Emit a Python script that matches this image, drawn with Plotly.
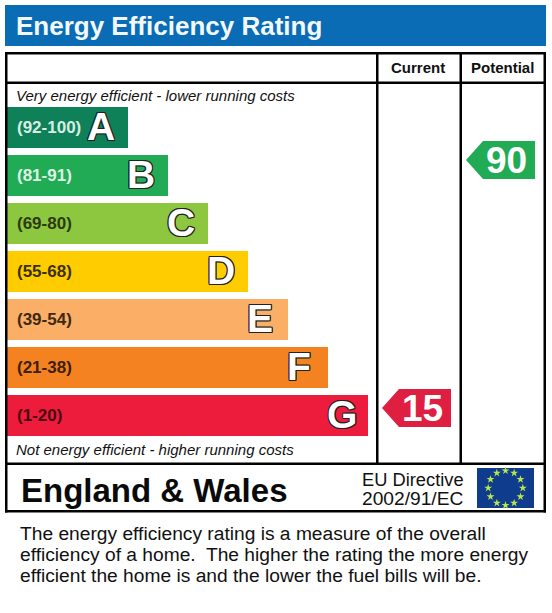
import plotly.graph_objects as go

# Bands, top to bottom
band_letters = ['A', 'B', 'C', 'D', 'E', 'F', 'G']
band_ranges = ['(92-100)', '(81-91)', '(69-80)', '(55-68)', '(39-54)', '(21-38)', '(1-20)']
band_lengths = [121, 161, 201, 241, 281, 321, 361]
band_colors = ['#0E8158', '#22AB55', '#8DC63F', '#FFCC00', '#FBAE65', '#F58220', '#EE1C3C']
range_colors = ['#D8EDE4', '#DDF2E4', '#2B3A12', '#3A3000', '#3D2A14', '#3D2008', '#4A0812']

current_rating = 15
potential_rating = 90
current_color = '#DF1F42'
potential_color = '#22AB55'

body_lines = [
    'The energy efficiency rating is a measure of the overall',
    'efficiency of a home.  The higher the rating the more energy',
    'efficient the home is and the lower the fuel bills will be.',
]
star_angles = [0, 30, 60, 90, 120, 150, 180, 210, 240, 270, 300, 330]
star_radius = [1] * 12

FONT = 'Liberation Sans'
W, H = 552, 613
OUTLINE = ','.join(f'{dx}px {dy}px 0 #222' for dx in (-1, 0, 1) for dy in (-1, 0, 1) if dx or dy)

fig = go.Figure()

# Rating bands
fig.add_trace(go.Bar(
    y=band_letters,
    x=band_lengths,
    base=7,
    orientation='h',
    marker=dict(color=band_colors, line=dict(width=0)),
    hoverinfo='skip',
    xaxis='x',
    yaxis='y',
))
# Range labels inside the bars
fig.add_trace(go.Scatter(
    y=band_letters,
    x=[17] * 7,
    mode='text',
    text=band_ranges,
    textposition='middle right',
    textfont=dict(family=FONT, size=17, weight='bold', color=range_colors),
    hoverinfo='skip',
    xaxis='x',
    yaxis='y3',
))
# Outlined letters at the bar ends
fig.add_trace(go.Scatter(
    y=band_letters,
    x=[7 + v - 41 for v in band_lengths],
    mode='text',
    text=band_letters,
    textposition='middle right',
    textfont=dict(family=FONT, size=39, weight='bold', color='white', shadow=OUTLINE),
    hoverinfo='skip',
    xaxis='x',
    yaxis='y4',
))
# EU stars
fig.add_trace(go.Scatterpolar(
    theta=star_angles,
    r=star_radius,
    mode='markers',
    marker=dict(symbol='star', size=6, color='#B9E64B'),
    hoverinfo='skip',
    subplot='polar',
))


def px_text(x, y, text, size, bold=False, italic=False, color='#111111', xanchor='left'):
    fig.add_annotation(
        x=x, y=y, xref='x', yref='y2', text=text, showarrow=False,
        xanchor=xanchor, yanchor='middle', align='left',
        borderpad=0, borderwidth=0,
        font=dict(family=FONT, size=size, color=color,
                  weight='bold' if bold else 'normal',
                  style='italic' if italic else 'normal'),
    )


def rect(x0, y0, x1, y1, color):
    fig.add_shape(type='rect', x0=x0, y0=y0, x1=x1, y1=y1, xref='x', yref='y2',
                  fillcolor=color, line=dict(width=0), layer='below')


def pointer(x0, x1, y0, y1, color, label):
    # arrow-shaped tag pointing left
    head = x0 + 17
    mid = (y0 + y1) / 2
    fig.add_shape(type='path', xref='x', yref='y2', layer='below',
                  path=f'M {x0} {mid} L {head} {y0} L {x1} {y0} L {x1} {y1} L {head} {y1} Z',
                  fillcolor=color, line=dict(width=0))
    px_text((head + x1) / 2 - 3, mid, label, 37, bold=True, color='white', xanchor='center')


# Header
rect(5, 5, 546, 46, '#0A6CB4')
px_text(16, 26, 'Energy Efficiency Rating', 26, bold=True, color='#F2F8FC')

# Frame and grid lines
rect(5, 52, 546, 54.5, '#000000')
rect(5, 510, 546, 512.5, '#000000')
rect(5, 52, 7.5, 512.5, '#000000')
rect(543.5, 52, 546, 512.5, '#000000')
rect(5, 81.5, 546, 84, '#000000')
rect(5, 462.5, 546, 465, '#000000')
rect(376, 52, 378.5, 464, '#000000')
rect(459.5, 52, 462, 464, '#000000')

px_text(418, 67.5, 'Current', 15, bold=True, xanchor='center')
px_text(502.5, 67.5, 'Potential', 15, bold=True, xanchor='center')
px_text(16, 95, 'Very energy efficient - lower running costs', 15, italic=True)
px_text(16, 449, 'Not energy efficient - higher running costs', 15, italic=True)

pointer(466, 535, 141, 179, potential_color, str(potential_rating))
pointer(382, 451, 389, 427, current_color, str(current_rating))

# Footer
px_text(21, 490, 'England &amp; Wales', 33, bold=True, color='#0A0A0A')
px_text(362, 479, 'EU Directive', 18.3)
px_text(362, 498, '2002/91/EC', 19.2)
rect(477, 468, 534, 508, '#0F3C8C')

for i, line in enumerate(body_lines):
    px_text(20, 533 + i * 21, line, 19.2)

band_axis = dict(type='category', categoryorder='array', categoryarray=band_letters,
                 range=[6.5, -0.5], visible=False)

fig.update_layout(
    width=W, height=H,
    margin=dict(l=0, r=0, t=0, b=0),
    paper_bgcolor='white', plot_bgcolor='rgba(0,0,0,0)',
    showlegend=False,
    bargap=7 / 48,
    xaxis=dict(range=[0, W], visible=False, fixedrange=True, domain=[0, 1]),
    # each band takes 48px, the seven of them from y=103.5 to y=439.5
    yaxis=dict(domain=[1 - 439.5 / H, 1 - 103.5 / H], **band_axis),
    yaxis2=dict(range=[H, 0], visible=False, domain=[0, 1], anchor='x'),
    # same bands, nudged down, for the text inside the bars
    yaxis3=dict(domain=[1 - 440.5 / H, 1 - 104.5 / H], anchor='x', **band_axis),
    yaxis4=dict(domain=[1 - 442.5 / H, 1 - 106.5 / H], anchor='x', **band_axis),
    polar=dict(
        domain=dict(x=[483 / W, 528 / W], y=[1 - 510.5 / H, 1 - 465.5 / H]),
        bgcolor='rgba(0,0,0,0)',
        radialaxis=dict(visible=False, range=[0, 1.3]),
        angularaxis=dict(visible=False),
    ),
)

# the figure should sit flush in the window
fig.write_html('out.html', config=dict(displayModeBar=False),
               post_script="document.body.style.margin='0';")
